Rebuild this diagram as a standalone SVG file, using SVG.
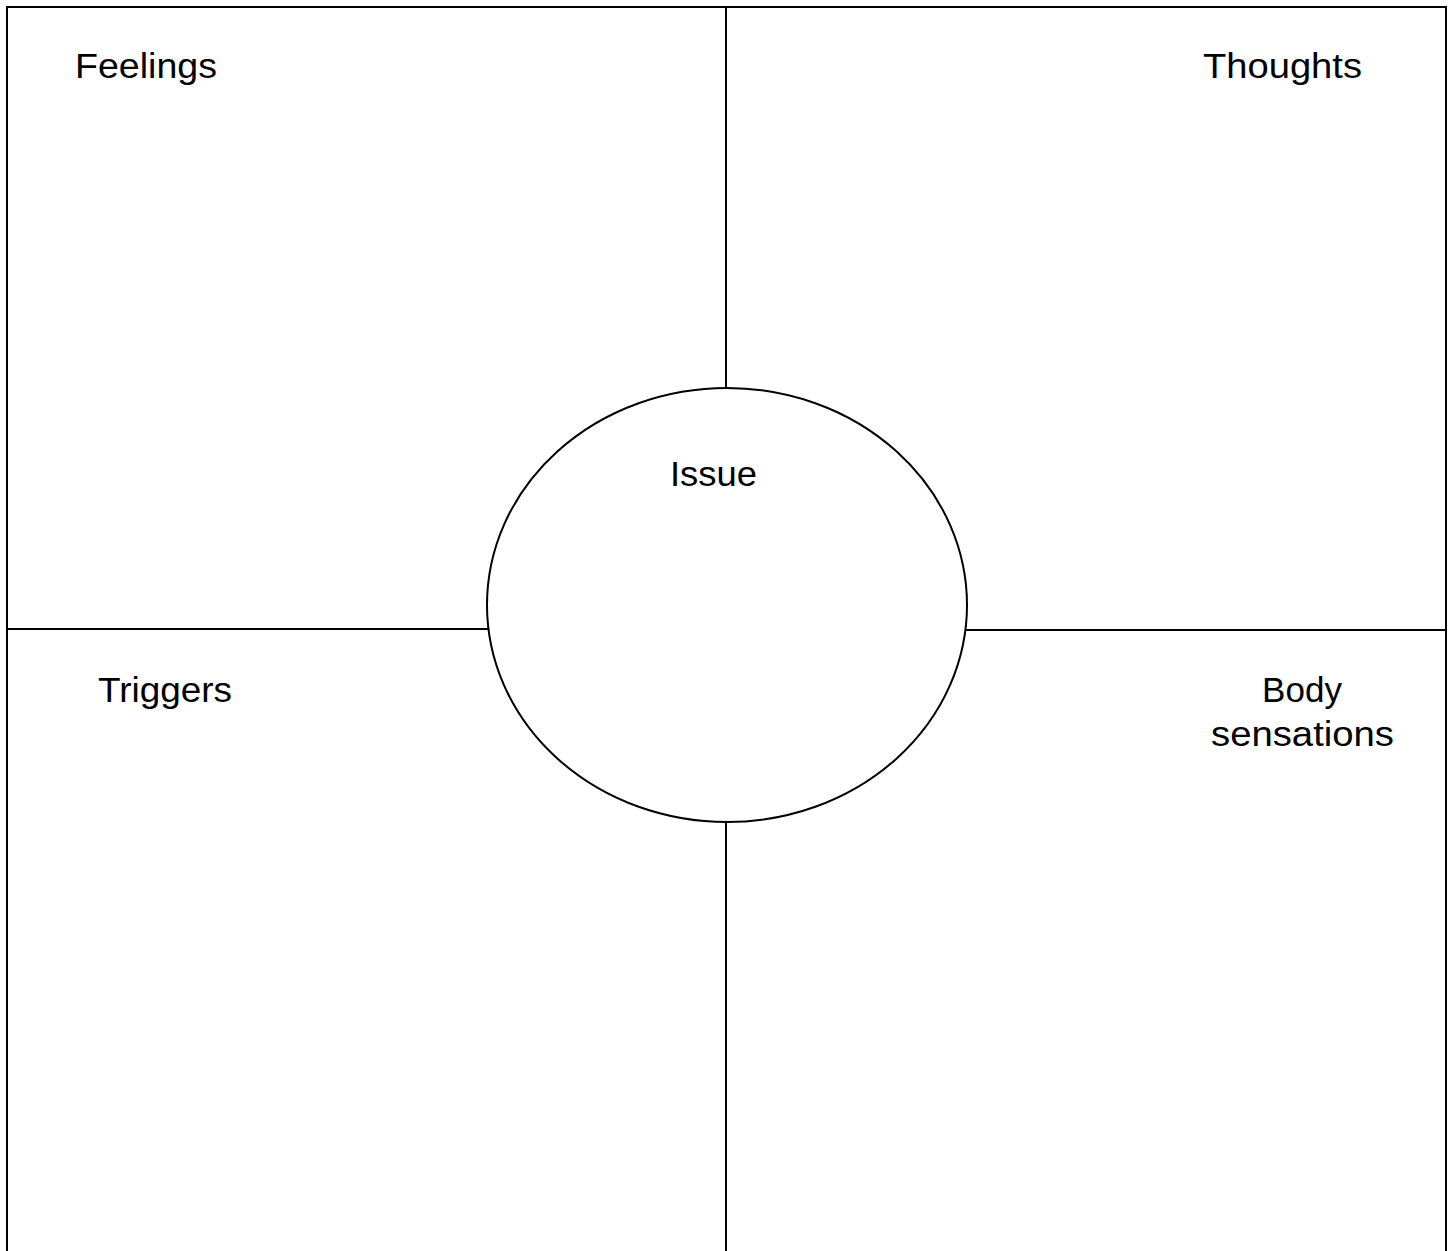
<svg xmlns="http://www.w3.org/2000/svg" width="1453" height="1251" viewBox="0 0 1453 1251">
<style>
.ln{stroke:#000;stroke-width:2;fill:none}
.t{font-family:"Liberation Sans",Arial,sans-serif;font-size:35px;fill:#000}
</style>
<rect width="1453" height="1251" fill="#fff"/>
<g id="connectors">
<path class="ln" d="M7,1251 V7 H1446 V1251"/>
<line class="ln" x1="726" y1="7" x2="726" y2="389"/>
<line class="ln" x1="726" y1="822" x2="726" y2="1251"/>
<line class="ln" x1="7" y1="629" x2="488" y2="629"/>
<line class="ln" x1="966" y1="630" x2="1446" y2="630"/>
</g>
<g id="issue">
<ellipse class="ln" cx="727" cy="605" rx="240" ry="217"/>
<text class="t" x="670" y="486" textLength="87" lengthAdjust="spacingAndGlyphs">Issue</text>
</g>
<g id="feelings"><text class="t" x="75" y="78" textLength="142" lengthAdjust="spacingAndGlyphs">Feelings</text></g>
<g id="thoughts"><text class="t" x="1203" y="78" textLength="159" lengthAdjust="spacingAndGlyphs">Thoughts</text></g>
<g id="triggers"><text class="t" x="98" y="702" textLength="134" lengthAdjust="spacingAndGlyphs">Triggers</text></g>
<g id="body"><text class="t" x="1302" y="702" text-anchor="middle">Body</text><text class="t" x="1211" y="746" textLength="183" lengthAdjust="spacingAndGlyphs">sensations</text></g>
</svg>
